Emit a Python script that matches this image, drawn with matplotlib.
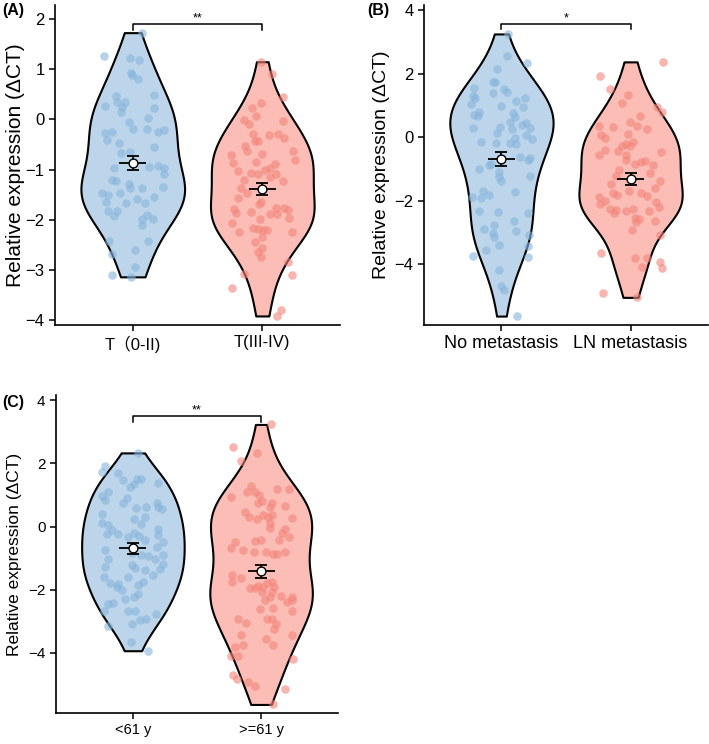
import numpy as np
import matplotlib
matplotlib.use("Agg")
import matplotlib.pyplot as plt

plt.rcParams["font.family"] = ["Liberation Sans", "Noto Sans CJK SC", "DejaVu Sans"]

BLUE_FILL = "#BDD5EA"
BLUE_PT = "#86B5DC"
RED_FILL = "#FBBDB5"
RED_PT = "#F4857A"

# ---- panel A : T stage ----
a_labels = ["T（0-II)", "T(III-IV)"]
a_low = [1.73, 1.27, 1.22, 1.18, 0.92, 0.88, 0.80, 0.47, 0.49, 0.34, 0.35, 0.25, 0.26, 0.14, 0.23,
         0.02, -0.05, -0.20, -0.19, -0.28, -0.26, -0.42, -0.26, -0.22, -0.48, -0.56, -0.68, -0.66,
         -0.96, -0.94, -0.92, -0.96, -1.08, -1.21, -1.22, -1.29, -1.36, -1.37, -1.46, -1.47, -1.51,
         -1.35, -1.64, -1.66, -1.59, -1.66, -1.55, -1.83, -1.83, -1.92, -1.90, -1.98, -1.98, -2.10,
         -2.42, -2.42, -2.68, -2.60, -2.95, -3.10, -3.14]
a_low_jit = [0.068, -0.219, -0.018, 0.049, -0.010, -0.005, 0.042, -0.128, 0.164, -0.120, -0.057,
             -0.081, -0.214, -0.094, 0.161, 0.115, -0.029, 0.005, 0.107, -0.214, -0.161, -0.198,
             0.193, 0.240, -0.107, 0.164, -0.089, -0.023, -0.141, 0.125, 0.193, 0.240, 0.245,
             -0.161, -0.130, -0.031, -0.023, 0.068, -0.240, -0.096, -0.193, 0.234, -0.206, -0.049,
             0.031, 0.094, 0.167, -0.188, -0.120, -0.146, 0.107, 0.068, 0.159, 0.073, -0.182,
             0.115, -0.161, 0.016, 0.016, -0.161, -0.010]
a_high = [1.15, 0.90, 0.44, 0.22, 0.32, 0.07, -0.01, -0.09, -0.03, -0.29, -0.31, -0.29, -0.38,
          -0.43, -0.43, -0.53, -0.63, -0.69, -0.71, -0.86, -0.84, -0.64, -0.81, -0.88, -1.03,
          -1.07, -1.09, -1.01, -0.97, -1.09, -1.14, -1.21, -1.23, -1.36, -1.46, -1.56, -1.69,
          -1.64, -1.78, -1.87, -1.85, -1.89, -1.89, -1.77, -1.76, -1.80, -1.97, -1.98, -2.07,
          -2.25, -2.17, -2.19, -2.20, -2.20, -2.34, -2.25, -2.44, -2.57, -2.65, -2.75, -2.85,
          -3.08, -3.11, -3.37, -3.80, -3.92]
a_high_jit = [-0.008, 0.078, 0.161, -0.078, -0.008, -0.047, -0.138, -0.104, 0.161, -0.068, 0.049,
              0.122, 0.169, -0.060, -0.034, -0.130, -0.120, -0.003, -0.242, -0.229, -0.052, 0.240,
              0.253, 0.096, -0.190, -0.086, -0.034, 0.023, 0.063, 0.102, 0.057, -0.143, 0.156,
              -0.164, -0.120, -0.185, -0.029, -0.013, -0.221, -0.203, -0.086, 0.057, 0.117, 0.109,
              0.169, 0.195, 0.206, -0.021, -0.237, -0.177, -0.073, -0.034, 0.005, 0.039, 0.000,
              0.232, -0.055, 0.000, -0.034, -0.013, 0.195, -0.138, 0.232, -0.237, 0.143, 0.117]
a_mean = [-0.87, -1.39]
a_se = [0.145, 0.12]

# ---- panel B : lymph node metastasis ----
b_labels = ["No metastasis", "LN metastasis"]
b_no = [3.25, 2.56, 2.35, 2.13, 1.74, 1.74, 1.55, 1.53, 1.43, 1.38, 1.30, 1.22, 1.04, 1.13, 1.22,
        0.99, 0.96, 0.80, 0.71, 0.67, 0.75, 0.64, 0.48, 0.38, 0.45, 0.29, 0.29, 0.33, 0.12, 0.27,
        -0.04, 0.08, -0.07, -0.17, -0.20, -0.20, -0.23, -0.62, -0.86, -0.88, -0.72, -0.65, -1.02,
        -1.09, -1.25, -1.38, -1.22, -1.70, -1.83, -1.93, -1.88, -1.74, -2.33, -2.37, -2.40, -2.90,
        -2.77, -2.65, -2.95, -3.03, -3.14, -3.09, -3.40, -3.56, -3.74, -3.43, -3.77, -4.19, -4.68,
        -4.82, -5.64]
b_no_jit = [0.050, 0.044, 0.200, -0.036, -0.068, -0.047, -0.211, 0.016, 0.042, -0.068, -0.224,
            -0.203, -0.237, 0.109, 0.180, -0.003, 0.167, -0.172, -0.211, -0.185, 0.089, 0.102,
            0.063, 0.161, 0.193, 0.219, -0.219, -0.008, -0.036, 0.083, 0.102, 0.188, 0.240,
            -0.159, -0.042, 0.068, 0.109, 0.141, -0.081, -0.099, 0.206, 0.224, -0.177, -0.021,
            -0.016, -0.003, 0.224, -0.141, -0.099, -0.159, -0.229, 0.102, -0.177, -0.029, 0.206,
            -0.133, -0.055, 0.094, 0.115, -0.068, -0.055, 0.214, -0.016, -0.120, -0.224, 0.206,
            0.206, -0.016, -0.003, 0.023, 0.122]
b_ln = [2.37, 1.93, 1.51, 1.32, 1.08, 0.96, 0.78, 0.66, 0.48, 0.36, 0.33, 0.35, 0.27, 0.08, 0.09,
        -0.04, -0.27, -0.23, -0.27, -0.17, -0.41, -0.44, -0.57, -0.46, -0.57, -0.72, -0.86, -0.78,
        -0.76, -0.88, -1.04, -1.12, -1.22, -1.37, -1.48, -1.60, -1.70, -1.75, -1.81, -1.75, -1.86,
        -1.88, -2.11, -2.00, -2.06, -2.19, -2.27, -2.40, -2.30, -2.32, -2.28, -2.33, -2.56, -2.59,
        -2.67, -2.63, -2.93, -3.09, -3.64, -3.80, -3.80, -4.08, -3.93, -4.11, -4.92, -5.05]
b_ln_jit = [0.253, -0.240, -0.161, -0.018, -0.065, 0.203, 0.247, 0.070, -0.005, -0.242, -0.135,
            0.052, 0.125, -0.227, -0.021, -0.201, -0.065, -0.039, -0.008, 0.018, -0.201, -0.096,
            -0.247, 0.234, -0.039, -0.034, 0.034, 0.078, 0.109, 0.174, -0.086, 0.148, -0.112,
            0.227, -0.148, 0.188, -0.013, -0.135, -0.104, 0.078, 0.125, -0.242, -0.234, -0.195,
            0.195, 0.221, -0.161, -0.130, -0.112, -0.034, 0.018, 0.143, 0.034, 0.065, 0.044,
            0.188, 0.013, 0.227, -0.227, 0.034, 0.130, 0.091, 0.227, 0.242, -0.216, 0.047]
b_mean = [-0.70, -1.33]
b_se = [0.225, 0.195]

# ---- panel C : age ----
c_labels = ["<61 y", ">=61 y"]
c_young = [2.33, 1.91, 1.71, 1.70, 1.47, 1.49, 1.49, 1.36, 1.24, 1.38, 1.08, 0.96, 0.84, 0.89,
           0.75, 0.73, 0.62, 0.57, 0.60, 0.62, 0.41, 0.25, 0.29, 0.12, 0.04, 0.08, -0.11, -0.24,
           -0.25, -0.09, -0.27, -0.32, -0.20, -0.30, -0.43, -0.48, -0.64, -0.73, -0.85, -0.90,
           -0.94, -1.04, -0.90, -1.04, -1.22, -1.30, -1.27, -1.38, -1.54, -1.33, -1.17, -1.61,
           -1.80, -1.61, -1.82, -1.91, -1.85, -1.75, -2.01, -2.28, -2.22, -2.14, -2.41, -2.46,
           -2.67, -2.67, -2.68, -2.77, -2.96, -2.94, -3.09, -3.15, -3.65, -3.93]
c_young_jit = [0.036, -0.214, -0.240, -0.115, -0.076, 0.029, 0.063, 0.010, -0.023, 0.193, -0.193,
               -0.245, -0.214, -0.049, -0.076, 0.185, 0.198, 0.229, 0.021, 0.099, -0.240, 0.010,
               0.094, -0.245, -0.193, 0.063, -0.161, -0.120, -0.206, 0.193, 0.198, -0.036, 0.010,
               0.047, 0.094, 0.237, 0.185, -0.219, -0.010, 0.063, 0.115, 0.172, 0.237, -0.193,
               -0.005, 0.016, -0.214, 0.094, 0.159, 0.211, 0.237, -0.224, -0.180, -0.042, -0.117,
               -0.128, 0.042, 0.081, -0.089, -0.062, 0.010, 0.036, -0.154, -0.198, -0.224, -0.036,
               0.016, 0.177, 0.055, 0.099, -0.010, -0.193, -0.016, 0.115]
c_old = [3.23, 2.52, 2.33, 2.08, 1.29, 1.08, 1.08, 0.99, 1.18, 1.18, 0.94, 0.76, 0.80, 0.73, 0.62,
         0.66, 0.47, 0.31, 0.23, 0.36, 0.31, 0.36, 0.28, 0.10, -0.06, -0.08, -0.22, -0.33, -0.43,
         -0.50, -0.67, -0.75, -0.46, -0.43, -0.80, -0.80, -0.88, -0.88, -0.80, -1.54, -1.77, -1.62,
         -1.94, -1.94, -1.88, -1.91, -1.80, -1.75, -1.91, -2.07, -2.07, -2.22, -2.33, -2.19, -2.22,
         -2.38, -2.33, -2.61, -2.57, -2.67, -2.93, -3.04, -2.93, -2.93, -3.10, -3.25, -3.44, -3.42,
         -3.75, -3.56, -3.75, -3.81, -4.09, -4.09, -4.20, -4.70, -4.83, -4.91, -5.04, -5.15, -5.63]
c_old_jit = [0.078, -0.216, -0.034, -0.159, -0.081, -0.107, -0.047, -0.013, 0.122, 0.214, -0.234,
             -0.021, 0.005, 0.083, 0.070, 0.188, -0.125, -0.091, -0.029, 0.018, 0.057, 0.083,
             0.240, 0.070, 0.070, 0.188, 0.161, 0.214, 0.143, -0.203, -0.237, -0.138, -0.047,
             -0.003, -0.055, 0.039, 0.096, 0.128, 0.188, -0.229, -0.224, -0.156, -0.086, -0.047,
             -0.021, 0.013, 0.044, 0.083, 0.102, 0.083, 0.005, 0.070, 0.031, 0.156, 0.240, 0.206,
             0.240, -0.008, 0.096, 0.240, -0.182, -0.117, 0.044, 0.083, 0.117, 0.102, -0.156,
             0.240, -0.138, 0.039, 0.096, -0.203, -0.237, -0.177, 0.247, -0.216, -0.185, -0.099,
             -0.047, 0.188, 0.096]
c_mean = [-0.69, -1.42]
c_se = [0.17, 0.205]


def violin_panel(ax, labels, groups, jitters, means, ses, sig, bracket, ylim, yticks,
                 ylab_size, tick_size, xtick_size):
    fills = [BLUE_FILL, RED_FILL]
    pts = [BLUE_PT, RED_PT]
    for i, (vals, jit) in enumerate(zip(groups, jitters)):
        pos = i + 1
        vals = np.asarray(vals)
        # bandwidth close to R's default, a bit smoother
        q75, q25 = np.percentile(vals, [75, 25])
        sd = vals.std(ddof=1)
        bw = 1.0 * min(1.0, (q75 - q25) / 1.34 / sd) * len(vals) ** -0.2
        vp = ax.violinplot([vals], positions=[pos], widths=0.8, showextrema=False,
                           bw_method=bw, points=200)
        for body in vp["bodies"]:
            body.set_facecolor(fills[i])
            body.set_edgecolor("black")
            body.set_linewidth(1.5)
            body.set_alpha(1)
            body.set_zorder(1)
        ax.scatter(pos + np.asarray(jit), vals, s=38, color=pts[i], alpha=0.6,
                   linewidths=0, zorder=2)
        # mean +/- SE
        ax.errorbar(pos, means[i], yerr=ses[i], fmt="none", ecolor="black",
                    elinewidth=1.3, capsize=4.5, capthick=1.3, zorder=3)
        ax.hlines(means[i], pos - 0.105, pos + 0.105, color="black", lw=1.3, zorder=3)
        ax.scatter([pos], [means[i]], s=40, facecolor="white", edgecolor="black",
                   linewidths=1, zorder=4)

    y_top, drop = bracket
    ax.plot([1, 1, 2, 2], [y_top - drop, y_top, y_top, y_top - drop], color="black",
            lw=1.1, zorder=5, clip_on=False)
    ax.text(1.5, y_top, sig, ha="center", va="bottom", fontsize=9)

    ax.set_xlim(0.4, 2.6)
    ax.set_ylim(*ylim)
    ax.set_yticks(yticks)
    ax.set_xticks([1, 2])
    ax.set_xticklabels(labels, fontsize=xtick_size)
    ax.tick_params(axis="y", labelsize=tick_size)
    ax.tick_params(length=4, width=1.1, color="black")
    ax.set_ylabel("Relative expression (ΔCT)", fontsize=ylab_size)
    for side in ["top", "right"]:
        ax.spines[side].set_visible(False)
    for side in ["left", "bottom"]:
        ax.spines[side].set_linewidth(1.2)


fig = plt.figure(figsize=(7.09, 7.44), dpi=100)

ax_a = fig.add_axes([0.0776, 0.5632, 0.402, 0.430])
violin_panel(ax_a, a_labels, [a_low, a_high], [a_low_jit, a_high_jit], a_mean, a_se, "**",
             (1.90, 0.12), (-4.10, 2.28), [-4, -3, -2, -1, 0, 1, 2], 15, 12, 12)
ax_a.yaxis.set_label_coords(-0.105, 0.5)

ax_b = fig.add_axes([0.598, 0.5632, 0.4006, 0.430])
violin_panel(ax_b, b_labels, [b_no, b_ln], [b_no_jit, b_ln_jit], b_mean, b_se, "*",
             (3.56, 0.16), (-5.92, 4.16), [-4, -2, 0, 2, 4], 14, 12, 13)
ax_b.yaxis.set_label_coords(-0.12, 0.5)

ax_c = fig.add_axes([0.079, 0.0417, 0.3977, 0.4273])
violin_panel(ax_c, c_labels, [c_young, c_old], [c_young_jit, c_old_jit], c_mean, c_se, "**",
             (3.49, 0.19), (-5.90, 4.16), [-4, -2, 0, 2, 4], 12.5, 11, 10.5)
ax_c.yaxis.set_label_coords(-0.12, 0.5)

fig.text(2 / 709, 1 - 10 / 744, "(A)", fontsize=11.5, fontweight="bold", va="center")
fig.text(367 / 709, 1 - 10 / 744, "(B)", fontsize=11.5, fontweight="bold", va="center")
fig.text(2 / 709, 1 - 402 / 744, "(C)", fontsize=11.5, fontweight="bold", va="center")

fig.savefig("out.png", dpi=100)
